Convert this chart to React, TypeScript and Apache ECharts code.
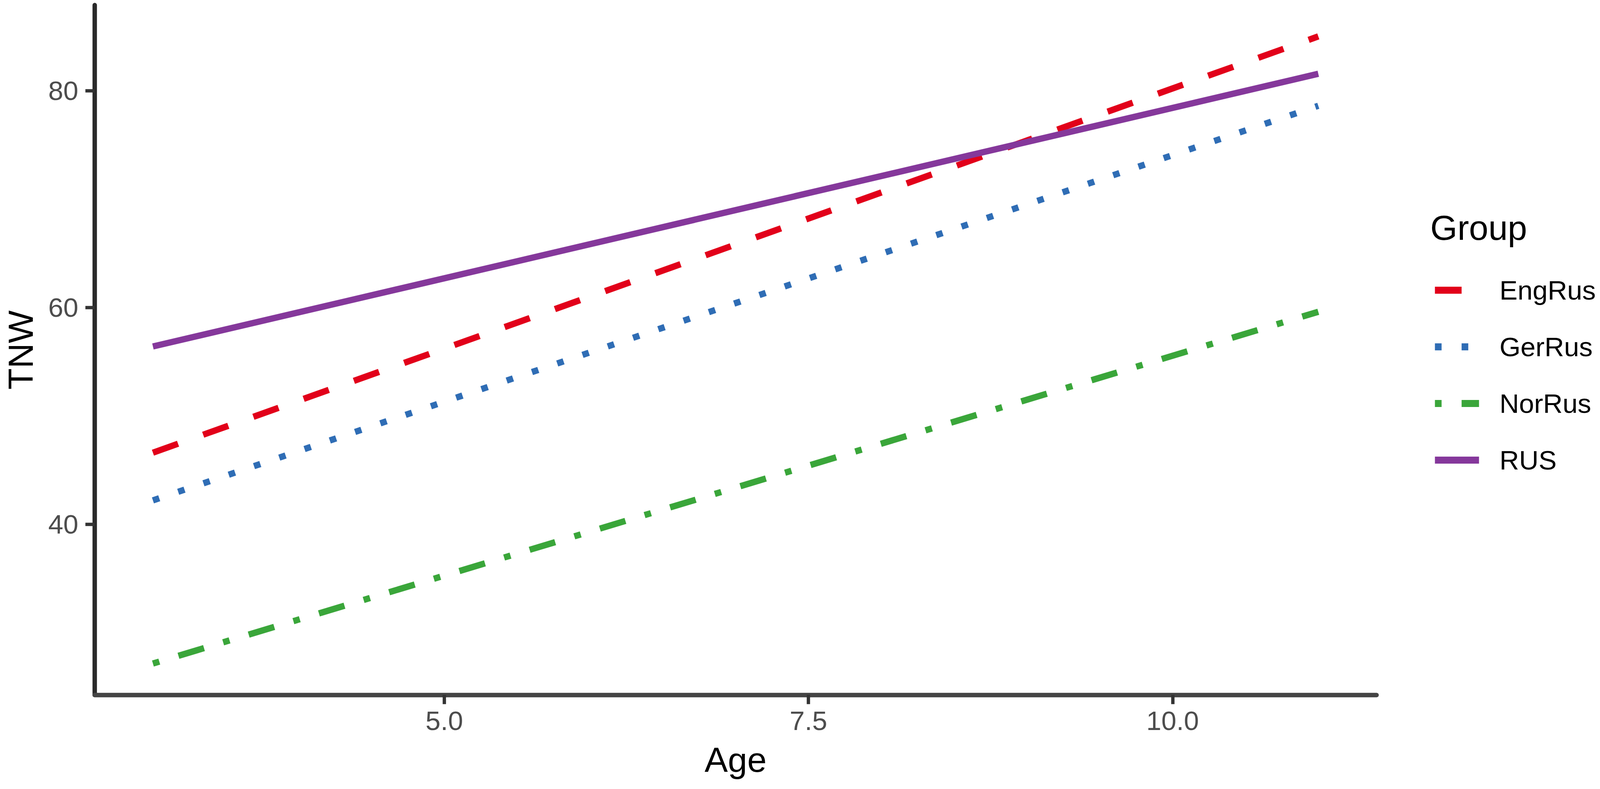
import React, { useEffect, useRef, useState } from "react";
import * as echarts from "echarts";

// ---- data ----
const ages = [3, 11];
const groups = ["EngRus", "GerRus", "NorRus", "RUS"];
const engRusTNW = [46.6, 85.0];
const gerRusTNW = [42.2, 78.6];
const norRusTNW = [27.15, 59.6];
const rusTNW = [56.4, 81.55];
const xTicks = [5.0, 7.5, 10.0];
const yTicks = [40, 60, 80];
const xRange = [2.6, 11.4];
const yRange = [24.26, 87.89];

const FONT = "'Liberation Sans', Arial, Helvetica, sans-serif";
const REF_W = 4318;
const REF_H = 2020;

const STYLE: Record<string, { color: string; dash: number[] | string }> = {
  EngRus: { color: "#E2001A", dash: [72, 72] },
  GerRus: { color: "#2F6DB5", dash: [18, 54] },
  NorRus: { color: "#3AA63A", dash: [18, 54, 72, 54] },
  RUS: { color: "#85389B", dash: "solid" },
};

function getViewport() {
  const w = document.documentElement.clientWidth || window.innerWidth || REF_W;
  const h = document.documentElement.clientHeight || window.innerHeight || REF_H;
  return { w, h };
}

export default function App() {
  const ref = useRef<HTMLDivElement>(null);
  const [size, setSize] = useState<{ w: number; h: number } | null>(null);

  useEffect(() => {
    document.body.style.margin = "0";
    document.body.style.overflow = "hidden";
    document.documentElement.style.overflow = "hidden";
    setSize(getViewport());
  }, []);

  useEffect(() => {
    if (!ref.current || !size) return;
    const sx = size.w / REF_W;
    const sy = size.h / REF_H;
    const s = Math.min(sx, sy);
    const X = (v: number) => v * sx;
    const Y = (v: number) => v * sy;
    const S = (v: number) => v * s;
    const dashScaled = (d: number[] | string) => (Array.isArray(d) ? d.map((v) => S(v)) : d);

    const chart = echarts.init(ref.current, undefined, { renderer: "svg", width: size.w, height: size.h });
    const valuesByGroup: Record<string, number[]> = {
      EngRus: engRusTNW,
      GerRus: gerRusTNW,
      NorRus: norRusTNW,
      RUS: rusTNW,
    };
    const series = groups.map((g) => ({
      name: g,
      type: "line",
      symbol: "none",
      showSymbol: false,
      silent: true,
      data: ages.map((a, i) => [a, valuesByGroup[g][i]]),
      lineStyle: { color: STYLE[g].color, width: S(17), type: dashScaled(STYLE[g].dash), cap: "butt" },
      itemStyle: { color: STYLE[g].color },
    }));
    const option: any = {
      animation: false,
      backgroundColor: "#ffffff",
      title: {
        text: "Group",
        left: X(3860),
        top: Y(538),
        padding: 0,
        textStyle: { fontSize: S(94), fontWeight: "normal", color: "#000", fontFamily: FONT, lineHeight: S(94) },
      },
      legend: {
        orient: "vertical",
        left: X(3863),
        top: Y(707.5),
        padding: 0,
        itemWidth: S(119),
        itemHeight: S(75),
        itemGap: Y(145) - S(75),
        selectedMode: false,
        data: groups,
        textStyle: {
          fontSize: S(73),
          color: "#000",
          fontFamily: FONT,
          lineHeight: S(75),
          padding: [0, 0, 0, S(50)],
        },
        lineStyle: { width: S(19) },
        itemStyle: { opacity: 0, color: "rgba(0,0,0,0)", borderColor: "rgba(0,0,0,0)", borderWidth: 0 },
      },
      grid: { left: X(246), top: Y(13), width: X(3469), height: Y(1766) },
      xAxis: {
        type: "value",
        min: xRange[0],
        max: xRange[1],
        name: "Age",
        nameLocation: "middle",
        nameGap: Y(121),
        nameTextStyle: { fontSize: S(94), color: "#000", fontFamily: FONT, lineHeight: S(94) },
        axisLine: { show: true, onZero: false, lineStyle: { color: "#444", width: S(12) } },
        axisTick: { show: true, customValues: xTicks, length: S(25), lineStyle: { color: "#333", width: S(9) } },
        axisLabel: {
          customValues: xTicks,
          formatter: (v: number) => v.toFixed(1),
          margin: Y(30),
          fontSize: S(73),
          color: "#4D4D4D",
          fontFamily: FONT,
          lineHeight: S(75),
        },
        splitLine: { show: false },
      },
      yAxis: {
        type: "value",
        min: yRange[0],
        max: yRange[1],
        name: "TNW",
        nameLocation: "middle",
        nameGap: X(153),
        nameRotate: 90,
        nameTextStyle: { fontSize: S(94), color: "#000", fontFamily: FONT, lineHeight: S(94) },
        axisLine: { show: true, onZero: false, lineStyle: { color: "#2a2a2a", width: S(12) } },
        axisTick: { show: true, customValues: yTicks, length: S(25), lineStyle: { color: "#333", width: S(9) } },
        axisLabel: {
          customValues: yTicks,
          margin: X(44),
          fontSize: S(73),
          color: "#4D4D4D",
          fontFamily: FONT,
          lineHeight: S(75),
        },
        splitLine: { show: false },
      },
      series,
    };
    chart.setOption(option);
    return () => chart.dispose();
  }, [size]);

  const w = size ? size.w : REF_W;
  const h = size ? size.h : REF_H;
  return <div ref={ref} style={{ width: w, height: h }} />;
}
